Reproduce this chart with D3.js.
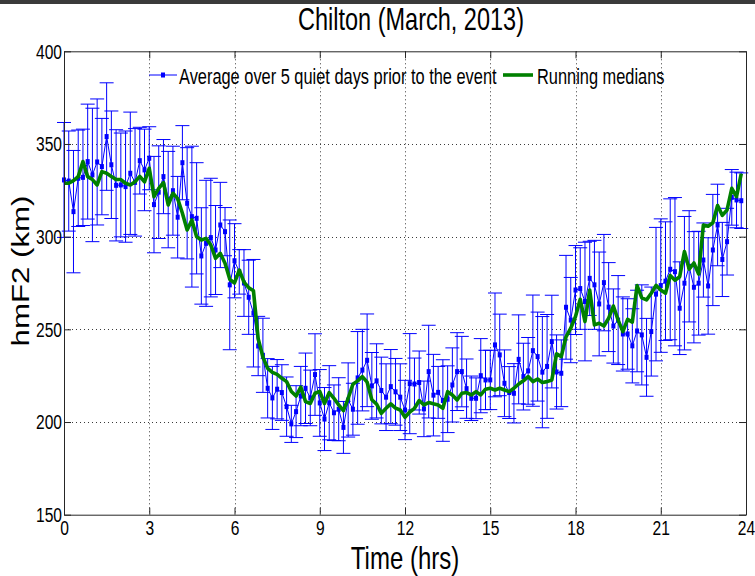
<!DOCTYPE html>
<html>
<head>
<meta charset="utf-8">
<script src="https://cdn.jsdelivr.net/npm/d3@7"></script>
<style>
  html, body { margin: 0; padding: 0; background: #fff; }
  svg { display: block; }
  text { font-family: "Liberation Sans", Arial, sans-serif; fill: #000; }
</style>
</head>
<body>
<svg id="chart" width="755" height="576"></svg>
<script>
// hmF2 at Chilton, 10-minute samples over one day
const stepMinutes = 10;

// Average over 5 quiet days prior to the event (km)
const avgQuiet = [
  330.6, 330, 313.5, 331.5, 332, 340.5, 333.3, 340.3, 337.8, 354, 338.8, 327.7,
  327.9, 327, 334.2, 329.3, 341, 336, 342.3, 317.3, 324, 332.4, 320, 324.8,
  310.5, 339.9, 318, 310.8, 309.9, 289.6, 296.4, 299.5, 292.8, 306.3, 302.7, 274,
  287, 281, 275, 267.3, 258.7, 241, 236, 218.2, 213, 217.7, 215.9, 208.3,
  199, 205.6, 214, 218.2, 213, 225.6, 210.3, 201.6, 210.4, 205, 206.9, 197.1,
  211.9, 206.9, 223.8, 228, 233.3, 219.5, 222.2, 217, 213.4, 219.1, 216.3, 213.4,
  206.5, 220.7, 220.5, 221.3, 207.1, 227.2, 214.5, 216, 211.6, 212.3, 220, 227.2,
  227.2, 218, 212.8, 212.8, 225, 222.7, 222.7, 241.6, 236.2, 220.9, 215.9, 215.5,
  233.8, 224.5, 227.6, 238.5, 235.3, 226.9, 230, 243.4, 227, 226.3, 261.9, 255,
  271.2, 272, 265, 277.5, 274, 263.7, 275.2, 262, 251.8, 255, 247.5, 247.5,
  241.1, 249.1, 247, 234.9, 248.8, 269, 273.6, 276, 282.4, 281.1, 261.4, 274.9,
  284, 272.7, 274.9, 287.4, 273.4, 292.8, 306.3, 287.7, 297.3, 321.2, 319.8, 319.4
];

// Error bar half-lengths for the quiet-day average (km)
const spread = [
  31, 27, 33, 26, 26, 31, 36, 34, 26, 29, 29, 30,
  28, 30, 33, 29, 18, 22, 17, 26, 25, 20, 26, 24,
  22, 20, 30, 38, 30, 26, 34, 32, 24, 23, 13, 35,
  20, 12, 18, 20, 29, 16, 20, 16, 17, 16, 15, 16,
  10, 14, 16, 19, 15, 22, 18, 17, 20, 15, 17, 14,
  20, 14, 25, 22, 25, 18, 20, 18, 18, 20, 18, 18,
  16, 27, 14, 17, 15, 25, 22, 14, 22, 18, 20, 21,
  19, 16, 12, 11, 20, 16, 16, 28, 22, 18, 14, 16,
  24, 18, 18, 30, 24, 30, 28, 25, 20, 18, 28, 23,
  24, 22, 32, 20, 24, 28, 26, 24, 20, 24, 20, 19,
  20, 22, 27, 21, 24, 36, 36, 32, 38, 40, 25, 36,
  30, 30, 28, 20, 26, 30, 22, 20, 18, 15, 15, 15
];

// Running medians (km)
const runningMedian = [
  328.8, 328.8, 330.2, 332.4, 340.5, 332.4, 330.8, 327.9, 335.1, 334.2, 332.5, 330.8,
  330.8, 328.8, 327.9, 329.6, 332.5, 329.6, 336.9, 321.6, 326, 329.2, 317.1, 323.4,
  320.5, 312.6, 303.6, 309, 300, 298.2, 299.1, 295.5, 288.3, 291, 285.6, 277,
  275, 282, 275.5, 272.5, 270.8, 245, 235, 229, 226.8, 225.7, 223.6, 221.8,
  216.5, 214, 218.8, 211, 210, 215.5, 216.5, 210, 215.9, 212.8, 209.2, 206.1,
  212.8, 220.4, 222.2, 224.5, 221.5, 212, 209.7, 204.7, 207.4, 209.8, 207.5, 206.5,
  202.6, 205.4, 207.4, 211.6, 209.2, 210.5, 209.8, 209.2, 207.4, 216.4, 214.6, 211.9,
  215.5, 215.9, 214.6, 216.4, 214.6, 217.7, 218.2, 217.3, 218.2, 217.3, 216.4, 218.2,
  220.5, 222.2, 224.5, 221.8, 223.2, 221.3, 221.8, 222.7, 236.8, 235.3, 246, 250.6,
  256.9, 266.2, 254.2, 271.2, 252.4, 253.3, 251.8, 256, 262.6, 255, 248.8, 255.4,
  253.9, 273.6, 267, 265.9, 269.5, 273.7, 271.2, 269.5, 279, 276.5, 278.4, 292,
  282.5, 285.8, 279.8, 306.3, 305.6, 307.5, 316.8, 311.5, 314.4, 326.1, 321.6, 334
];

const xTicks = [0, 3, 6, 9, 12, 15, 18, 21, 24];
const yTicks = [150, 200, 250, 300, 350, 400];

const titleText = "Chilton (March, 2013)";
const xLabelText = "Time (hrs)";
const yLabelText = "hmF2 (km)";
const legendLabels = ["Average over 5 quiet days prior to the event", "Running medians"];

const blue = "#0000ff";
const green = "#008000";
const axisColor = "#262626";
const textStretch = 1.3;   // figure text is drawn taller than wide

const hours = avgQuiet.map((_, i) => i * stepMinutes / 60);

const svg = d3.select("#chart");

// window frame strip along the top edge
svg.append("rect").attr("x", 0).attr("y", 0).attr("width", 755).attr("height", 4).attr("fill", "#3a3a3a");

const x = d3.scaleLinear().domain([0, 24]).range([64, 746]);
const y = d3.scaleLinear().domain([150, 400]).range([514.7, 51.3]);
const px = v => Math.round(v) + 0.5;

// dotted grid
const grid = svg.append("g").attr("stroke", "#3a3a3a").attr("stroke-width", 1).attr("stroke-dasharray", "1,3");
grid.selectAll("line.vx").data(xTicks.slice(1, -1)).join("line")
  .attr("x1", d => px(x(d))).attr("x2", d => px(x(d)))
  .attr("y1", y(400)).attr("y2", y(150));
grid.selectAll("line.hy").data(yTicks.slice(1, -1)).join("line")
  .attr("x1", x(0)).attr("x2", x(24))
  .attr("y1", d => px(y(d))).attr("y2", d => px(y(d)));

// error bars
const cap = 7;
const bars = svg.append("g").attr("stroke", blue).attr("stroke-width", 1).attr("fill", "none");
const eb = bars.selectAll("g").data(hours.map((h, i) => ({ h, v: avgQuiet[i], s: spread[i] }))).join("g");
eb.append("line")
  .attr("x1", d => x(d.h)).attr("x2", d => x(d.h))
  .attr("y1", d => y(d.v + d.s)).attr("y2", d => y(d.v - d.s));
eb.append("line")
  .attr("x1", d => x(d.h) - cap).attr("x2", d => x(d.h) + cap)
  .attr("y1", d => y(d.v + d.s)).attr("y2", d => y(d.v + d.s));
eb.append("line")
  .attr("x1", d => x(d.h) - cap).attr("x2", d => x(d.h) + cap)
  .attr("y1", d => y(d.v - d.s)).attr("y2", d => y(d.v - d.s));

// quiet-day average line with square markers
const avgLine = d3.line().x((d, i) => x(hours[i])).y(d => y(d));
svg.append("path").datum(avgQuiet).attr("d", avgLine)
  .attr("fill", "none").attr("stroke", blue).attr("stroke-width", 1);
svg.append("g").selectAll("rect").data(avgQuiet).join("rect")
  .attr("x", (d, i) => x(hours[i]) - 2).attr("y", d => y(d) - 2.5)
  .attr("width", 4).attr("height", 5).attr("fill", blue);

// running medians
const medLine = d3.line().x((d, i) => x(hours[i])).y(d => y(d));
svg.append("path").datum(runningMedian).attr("d", medLine)
  .attr("fill", "none").attr("stroke", green).attr("stroke-width", 3.6)
  .attr("stroke-linejoin", "round");

// axes box with inward ticks
function styleAxis(g) {
  g.attr("color", axisColor).attr("font-family", "Liberation Sans, Arial, sans-serif").attr("font-size", 15.6);
  g.select(".domain").attr("stroke-width", 1);
}
svg.append("g").attr("transform", `translate(0,${y(150)})`)
  .call(d3.axisBottom(x).tickValues(xTicks).tickSizeInner(-7).tickSizeOuter(0).tickPadding(4))
  .call(styleAxis)
  .call(g => g.selectAll("text").attr("fill", "#000").attr("transform", `scale(1,${textStretch})`).attr("y", 4.5));
svg.append("g").attr("transform", `translate(0,${y(400)})`)
  .call(d3.axisTop(x).tickValues(xTicks).tickSizeInner(-7).tickSizeOuter(0).tickFormat(""))
  .call(styleAxis);
svg.append("g").attr("transform", `translate(${x(0)},0)`)
  .call(d3.axisLeft(y).tickValues(yTicks).tickSizeInner(-7).tickSizeOuter(0).tickPadding(2))
  .call(styleAxis)
  .call(g => g.selectAll("text").attr("fill", "#000").attr("dy", "0.34em")
    .attr("transform", `scale(1,${textStretch})`));
svg.append("g").attr("transform", `translate(${x(24)},0)`)
  .call(d3.axisRight(y).tickValues(yTicks).tickSizeInner(-7).tickSizeOuter(0).tickFormat(""))
  .call(styleAxis);

function stretchedText(parent, tx, ty, str, size, anchor, extra) {
  const g = parent.append("g").attr("transform", `translate(${tx},${ty}) scale(1,${textStretch})${extra || ""}`);
  return g.append("text").attr("text-anchor", anchor).attr("font-size", size).text(str);
}

// title and axis labels
stretchedText(svg, 411, 29.5, titleText, 23.5, "middle");
stretchedText(svg, 405, 569, xLabelText, 24, "middle");
stretchedText(svg, 29, 271, yLabelText, 24, "middle", " rotate(-90)");

// legend
const lg = svg.append("g");
lg.append("line").attr("x1", 149).attr("x2", 177).attr("y1", 75).attr("y2", 75).attr("stroke", blue).attr("stroke-width", 1);
lg.append("rect").attr("x", 161).attr("y", 72.5).attr("width", 4).attr("height", 5).attr("fill", blue);
stretchedText(lg, 179, 84, legendLabels[0], 16.4, "start");
lg.append("line").attr("x1", 503).attr("x2", 533).attr("y1", 75).attr("y2", 75).attr("stroke", green).attr("stroke-width", 3.6);
stretchedText(lg, 537, 84, legendLabels[1], 16.4, "start");
</script>
</body>
</html>
